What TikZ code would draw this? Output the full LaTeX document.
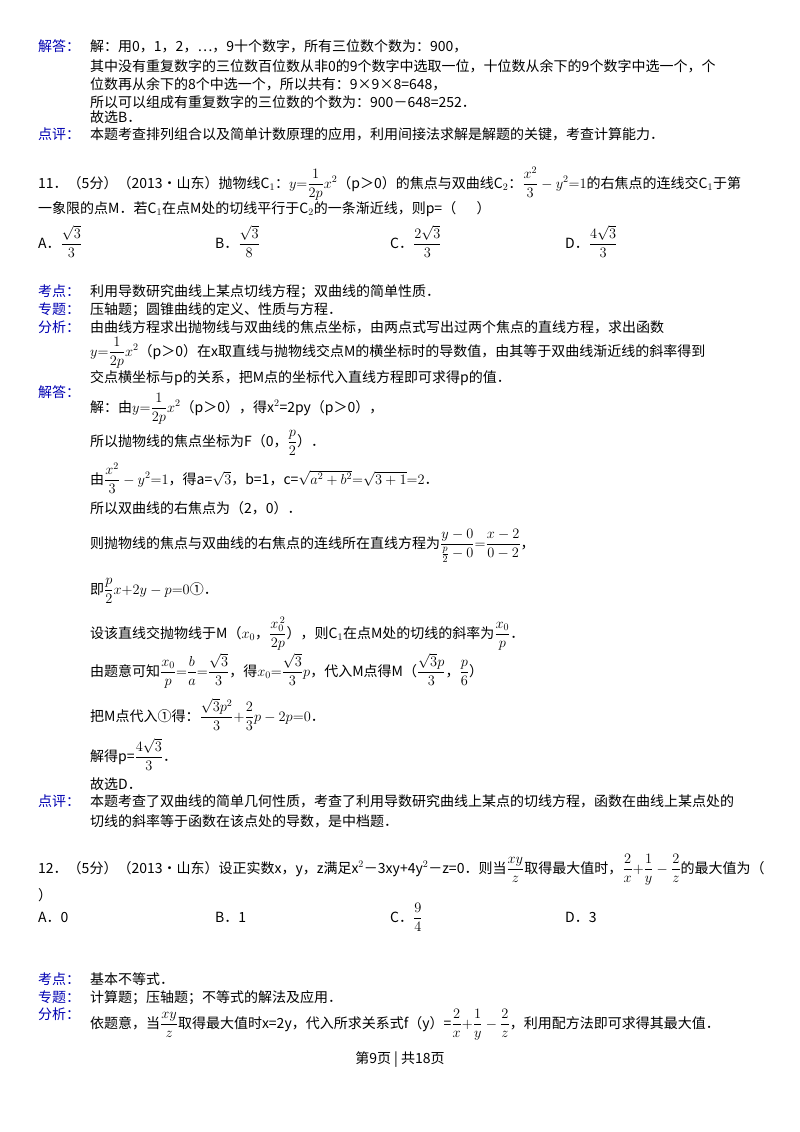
\documentclass[tikz,border=0pt]{standalone}
\usepackage{amsmath}
\usepackage{fontspec}
\setmainfont{Noto Sans CJK SC}
\begin{document}
\begin{tikzpicture}[x=1pt,y=-1pt,
  t/.style={anchor=base west,inner sep=0pt,font=\fontsize{14}{15}\selectfont},
  lab/.style={t,text=blue!70!black}]
\useasboundingbox (0,0) rectangle (800,1132);
\fill[white] (0,0) rectangle (800,1132);
\node[lab] (l1) at (38,52) {解答：};
\node[t] (a1) at (90,52) {解：用0，1，2，…，9十个数字，所有三位数个数为：900，};
\node[t] (a2) at (90,71) {其中没有重复数字的三位数百位数从非0的9个数字中选取一位，十位数从余下的9个数字中选一个，个};
\node[t] (a3) at (90,89) {位数再从余下的8个中选一个，所以共有：9×9×8=648，};
\node[t] (a4) at (90,107) {所以可以组成有重复数字的三位数的个数为：900－648=252．};
\node[t] (a5) at (90,122) {故选B．};
\node[lab] (l2) at (38,139) {点评：};
\node[t] (a6) at (90,139) {本题考查排列组合以及简单计数原理的应用，利用间接法求解是解题的关键，考查计算能力．};
\node[t] (q11) at (38,188) {11．（5分）（2013•山东）抛物线C$_1$：$y{=}\dfrac{1}{2p}x^2$（p＞0）的焦点与双曲线C$_2$：$\dfrac{x^2}{3}-y^2{=}1$的右焦点的连线交C$_1$于第};
\node[t] (q11b) at (38,213) {一象限的点M．若C$_1$在点M处的切线平行于C$_2$的一条渐近线，则p=（\quad\ \ ）};
\node[t] (oA) at (38,248) {A．$\dfrac{\sqrt3}{3}$};
\node[t] (oB) at (215,248) {B．$\dfrac{\sqrt3}{8}$};
\node[t] (oC) at (390,248) {C．$\dfrac{2\sqrt3}{3}$};
\node[t] (oD) at (565,248) {D．$\dfrac{4\sqrt3}{3}$};
\node[lab] (l3) at (38,296) {考点：};
\node[t] (b1) at (90,296) {利用导数研究曲线上某点切线方程；双曲线的简单性质．};
\node[lab] (l4) at (38,314) {专题：};
\node[t] (b2) at (90,314) {压轴题；圆锥曲线的定义、性质与方程．};
\node[lab] (l5) at (38,332) {分析：};
\node[t] (b3) at (90,332) {由曲线方程求出抛物线与双曲线的焦点坐标，由两点式写出过两个焦点的直线方程，求出函数};
\node[t] (b4) at (90,356) {$y{=}\dfrac{1}{2p}x^2$（p＞0）在x取直线与抛物线交点M的横坐标时的导数值，由其等于双曲线渐近线的斜率得到};
\node[t] (b5) at (90,382) {交点横坐标与p的关系，把M点的坐标代入直线方程即可求得p的值．};
\node[lab] (l6) at (38,397) {解答：};
\node[t] (c1) at (90,412) {解：由$y{=}\dfrac{1}{2p}x^2$（p＞0），得x$^2$=2py（p＞0），};
\node[t] (c2) at (90,446) {所以抛物线的焦点坐标为F（0，$\dfrac{p}{2}$）．};
\node[t] (c3) at (90,484) {由$\dfrac{x^2}{3}-y^2{=}1$，得a=$\sqrt3$，b=1，c=$\sqrt{a^2+b^2}{=}\sqrt{3+1}{=}2$．};
\node[t] (c4) at (90,513) {所以双曲线的右焦点为（2，0）．};
\node[t] (c5) at (90,548) {则抛物线的焦点与双曲线的右焦点的连线所在直线方程为$\dfrac{y-0}{\frac{p}{2}-0}{=}\dfrac{x-2}{0-2}$，};
\node[t] (c6) at (90,594) {即$\dfrac{p}{2}x{+}2y-p{=}0$①．};
\node[t] (c7) at (90,638) {设该直线交抛物线于M（$x_0$，$\dfrac{x_0^{\,2}}{2p}$），则C$_1$在点M处的切线的斜率为$\dfrac{x_0}{p}$．};
\node[t] (c8) at (90,676) {由题意可知$\dfrac{x_0}{p}{=}\dfrac{b}{a}{=}\dfrac{\sqrt3}{3}$，得$x_0{=}\dfrac{\sqrt3}{3}p$，代入M点得M（$\dfrac{\sqrt3p}{3}$，$\dfrac{p}{6}$）};
\node[t] (c9) at (90,721) {把M点代入①得：$\dfrac{\sqrt3p^2}{3}{+}\dfrac{2}{3}p-2p{=}0$．};
\node[t] (c10) at (90,761) {解得p=$\dfrac{4\sqrt3}{3}$．};
\node[t] (c11) at (90,789) {故选D．};
\node[lab] (l7) at (38,806) {点评：};
\node[t] (c12) at (90,806) {本题考查了双曲线的简单几何性质，考查了利用导数研究曲线上某点的切线方程，函数在曲线上某点处的};
\node[t] (c13) at (90,826) {切线的斜率等于函数在该点处的导数，是中档题．};
\node[t] (q12) at (38,873) {12．（5分）（2013•山东）设正实数x，y，z满足x$^2$－3xy+4y$^2$－z=0．则当$\dfrac{xy}{z}$取得最大值时，$\dfrac{2}{x}{+}\dfrac{1}{y}-\dfrac{2}{z}$的最大值为（};
\node[t] (q12b) at (38,900) {）};
\node[t] (pA) at (38,922) {A．0};
\node[t] (pB) at (215,922) {B．1};
\node[t] (pC) at (390,922) {C．$\dfrac{9}{4}$};
\node[t] (pD) at (565,922) {D．3};
\node[lab] (l8) at (38,984) {考点：};
\node[t] (d1) at (90,984) {基本不等式．};
\node[lab] (l9) at (38,1002) {专题：};
\node[t] (d2) at (90,1002) {计算题；压轴题；不等式的解法及应用．};
\node[lab] (l10) at (38,1019) {分析：};
\node[t] (d3) at (90,1028) {依题意，当$\dfrac{xy}{z}$取得最大值时x=2y，代入所求关系式f（y）=$\dfrac{2}{x}{+}\dfrac{1}{y}-\dfrac{2}{z}$，利用配方法即可求得其最大值．};
\node[t,anchor=base] (ft) at (400,1063) {第9页 | 共18页};
\end{tikzpicture}
\end{document}
